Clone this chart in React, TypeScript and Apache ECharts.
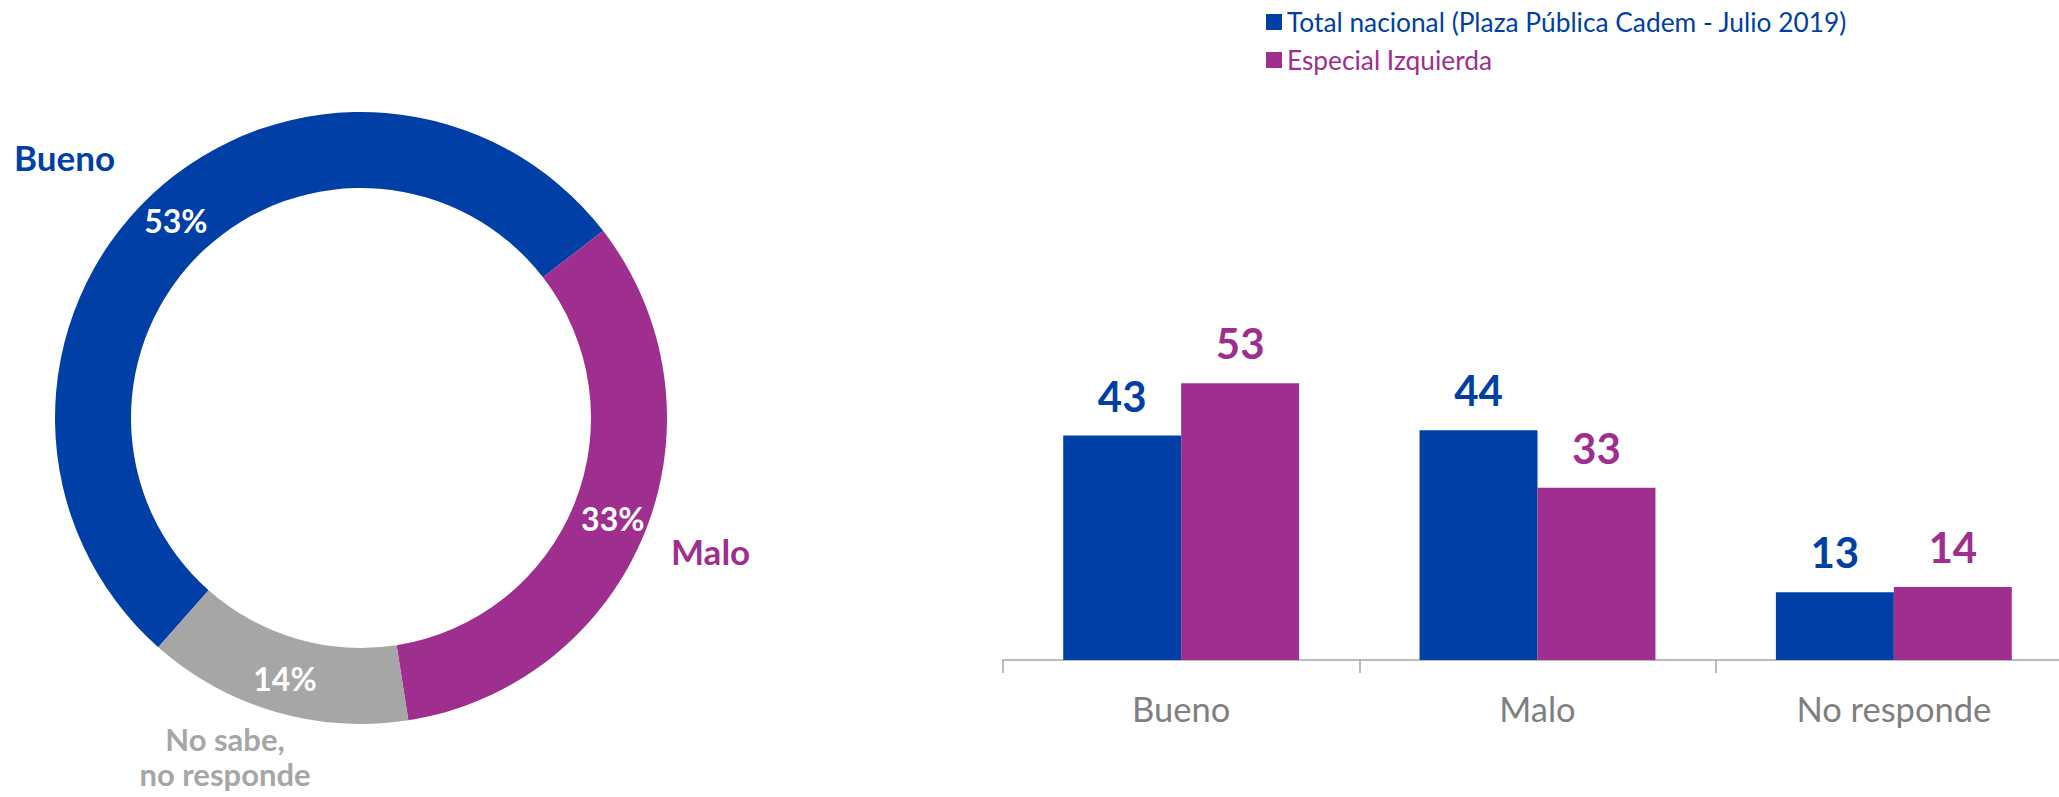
import React, { useEffect, useRef } from "react";
import * as echarts from "echarts";

const donutNames = ["Bueno", "Malo", "No sabe, no responde"];
const donutLabelNames = ["Bueno", "Malo", "No sabe,\nno responde"];
const donutValues = [53, 33, 14];
const donutColors = ["#003FA6", "#9E2F8E", "#A6A6A6"];

const barCategories = ["Bueno", "Malo", "No responde"];
const seriesNames = ["Total nacional (Plaza Pública Cadem - Julio 2019)", "Especial Izquierda"];
const totalNacional = [43, 44, 13];
const especialIzquierda = [53, 33, 14];
const seriesColors = ["#003FA6", "#9E2F8E"];

const FONT = "Lato, 'Open Sans', sans-serif";

export default function App() {
  const ref = useRef<HTMLDivElement>(null);
  useEffect(() => {
    if (!ref.current) return;
    const chart = echarts.init(ref.current, undefined, { renderer: "svg" });
    const barLabel = (color: string) => ({
      show: true,
      position: "top",
      distance: 19,
      color,
      fontWeight: "bold",
      fontSize: 42,
      fontFamily: FONT,
    });
    const option: any = {
      animation: false,
      textStyle: { fontFamily: FONT },
      legend: {
        orient: "vertical",
        left: 1261,
        top: 4,
        itemWidth: 16,
        itemHeight: 16,
        itemGap: 12,
        icon: "rect",
        selectedMode: false,
        data: seriesNames.map((n, i) => ({
          name: n,
          textStyle: { color: seriesColors[i], fontSize: 26.3, fontFamily: FONT },
        })),
      },
      grid: { left: 1003, top: 138, width: 1069, height: 522, containLabel: false },
      xAxis: {
        type: "category",
        data: barCategories,
        axisLine: { lineStyle: { color: "#A6A6A6", width: 1.5 } },
        axisTick: { show: true, length: 13, lineStyle: { color: "#A6A6A6", width: 1.5 } },
        axisLabel: { color: "#7F7F7F", fontSize: 34.5, fontFamily: FONT, margin: 31 },
      },
      yAxis: { type: "value", min: 0, max: 100, show: false, splitLine: { show: false } },
      series: [
        {
          type: "pie",
          center: [361, 418],
          radius: [230, 306],
          startAngle: 228.5,
          clockwise: true,
          avoidLabelOverlap: false,
          label: {
            show: true,
            position: "inside",
            formatter: "{c}%",
            color: "#FFFFFF",
            fontWeight: "bold",
            fontSize: 32,
            fontFamily: FONT,
          },
          labelLine: { show: false },
          emphasis: { disabled: true },
          data: donutValues.map((v, i) => ({
            name: donutNames[i],
            value: v,
            itemStyle: { color: donutColors[i] },
          })),
        },
        {
          type: "bar",
          name: seriesNames[0],
          data: totalNacional,
          itemStyle: { color: seriesColors[0] },
          barGap: "0%",
          barCategoryGap: "33.8%",
          label: barLabel(seriesColors[0]),
        },
        {
          type: "bar",
          name: seriesNames[1],
          data: especialIzquierda,
          itemStyle: { color: seriesColors[1] },
          barGap: "0%",
          barCategoryGap: "33.8%",
          label: barLabel(seriesColors[1]),
        },
      ],
      graphic: [
        {
          type: "text",
          left: 14,
          top: 139,
          style: {
            text: donutLabelNames[0],
            fill: donutColors[0],
            font: `bold 35px ${FONT}`,
          },
        },
        {
          type: "text",
          left: 671,
          top: 533,
          style: {
            text: donutLabelNames[1],
            fill: donutColors[1],
            font: `bold 35px ${FONT}`,
          },
        },
        {
          type: "text",
          x: 225,
          y: 721,
          style: {
            text: donutLabelNames[2],
            fill: donutColors[2],
            font: `bold 31px ${FONT}`,
            align: "center",
            verticalAlign: "top",
            lineHeight: 35,
          },
        },
      ],
    };
    chart.setOption(option);
    return () => chart.dispose();
  }, []);
  return (
    <div
      style={{
        position: "fixed",
        left: 0,
        top: 0,
        width: 2059,
        height: 797,
        overflow: "hidden",
        background: "#fff",
      }}
    >
      <div ref={ref} style={{ width: 2100, height: 797 }} />
    </div>
  );
}
